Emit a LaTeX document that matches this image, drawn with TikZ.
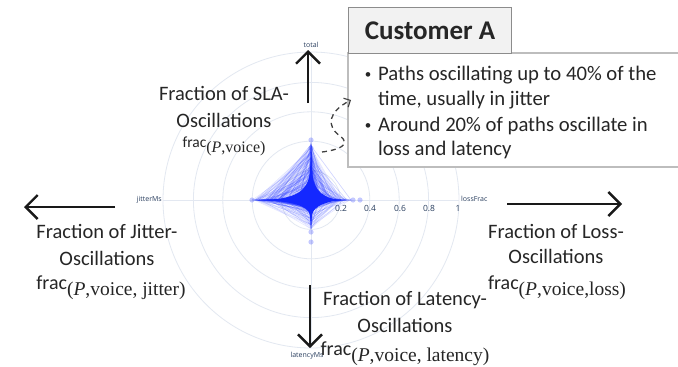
\documentclass[tikz,border=0pt]{standalone}
\usepackage{fontspec}
\setmainfont{Carlito}
\newfontfamily\subfont{Liberation Serif}
\newfontfamily\plotfont{Open Sans}
\usetikzlibrary{arrows.meta}
\definecolor{txt}{HTML}{262626}
\definecolor{gridc}{HTML}{E3E8F1}
\definecolor{axlbl}{HTML}{2A3F5F}
\definecolor{datac}{RGB}{20,40,255}
\definecolor{boxline}{HTML}{BDBDBD}
\definecolor{titlefill}{HTML}{F2F2F2}
\newcommand\bigfrac[1]{{\fontsize{20}{24}\selectfont frac\raisebox{-6pt}{\fontsize{19.5}{22}\subfont #1}}}
\newcommand\smallfrac[1]{{\fontsize{15.5}{18}\selectfont frac\raisebox{-5pt}{\fontsize{16}{18}\subfont #1}}}
\begin{document}
\begin{tikzpicture}[x=1pt,y=-1pt,
  lbl/.style={text=txt,font=\fontsize{20.5}{24}\selectfont,anchor=base,inner sep=0pt},
  bullettxt/.style={text=txt,font=\fontsize{20.7}{24}\selectfont,anchor=base west,inner sep=0pt},
  bulletdot/.style={text=txt,font=\fontsize{13}{14}\selectfont,anchor=base,inner sep=0pt},
  axname/.style={text=axlbl,font=\plotfont\fontsize{7}{8}\selectfont,inner sep=0pt},
  ticklbl/.style={text=axlbl,font=\plotfont\fontsize{8.5}{9}\selectfont,inner sep=0pt},
  gridline/.style={draw=gridc,line width=0.8pt},
  bigarrow/.style={draw=black!90,line width=2.4pt,-{Straight Barb[length=12pt,width=24pt,line width=2.4pt]}},
  dataline/.style={draw=datac,line width=0.5pt,draw opacity=0.12},
  datadot/.style={fill=datac,fill opacity=0.25}]
\useasboundingbox (0,0) rectangle (678,367);
\fill[white] (0,0) rectangle (678,367);
\coordinate (c) at (311,200);
% grid
\foreach \r in {29.4,58.8,88.2,117.6,148}{\draw[gridline] (c) circle[radius=\r];}
\draw[gridline] (163,200) -- (459,200);
\draw[gridline] (311,52) -- (311,348);
% tick labels
\node[ticklbl] (t2) at (341,208) {0.2};
\node[ticklbl] (t4) at (370,208) {0.4};
\node[ticklbl] (t6) at (400,208) {0.6};
\node[ticklbl] (t8) at (429,208) {0.8};
\node[ticklbl] (t10) at (458,208) {1};
% axis names
\node[axname] (ntotal) at (311,45) {total};
\node[axname,anchor=west] (nloss) at (461,199) {lossFrac};
\node[axname,anchor=east] (njit) at (162,200) {jitterMs};
\node[axname] (nlat) at (307,356) {latencyMs};
% data
\pgfmathsetseed{11}
\foreach \i in {1,...,260}{
  \pgfmathsetmacro\tt{0.40*pow(rnd,2.2)}
  \pgfmathsetmacro\jj{0.40*pow(rnd,2.0)}
  \pgfmathsetmacro\ll{0.28*pow(rnd,2.6)}
  \pgfmathsetmacro\dd{0.20*pow(rnd,2.6)}
  \draw[dataline] (311,{200-147*\tt}) -- ({311+147*\ll},200) -- (311,{200+147*\dd}) -- ({311-147*\jj},200) -- cycle;
}
\foreach \i in {1,...,70}{
  \pgfmathsetmacro\tt{0.05+0.33*pow(rnd,0.8)}
  \pgfmathsetmacro\jj{0.05+0.34*pow(rnd,0.8)}
  \pgfmathsetmacro\ll{0.02+0.2*pow(rnd,2)}
  \pgfmathsetmacro\dd{0.02+0.15*pow(rnd,2)}
  \draw[dataline] (311,{200-147*\tt}) -- ({311+147*\ll},200) -- (311,{200+147*\dd}) -- ({311-147*\jj},200) -- cycle;
}
% dense core
\fill[datac] (311,165) .. controls (313,188) and (318,196) .. (338,200) .. controls (318,204) and (313,208) .. (311,218) .. controls (309,208) and (303,204) .. (272,200) .. controls (303,196) and (309,188) .. cycle;
\fill[datac] (308.5,200) -- (311,152) -- (313.5,200) -- cycle;
\fill[datac] (311,198) -- (252,200) -- (311,202.5) -- cycle;
\fill[datac] (311,198) -- (351,200) -- (311,202) -- cycle;
\fill[datac] (309,200) -- (311,228) -- (313,200) -- cycle;
\foreach \p in {(311,140),(311,148),(360,200),(353,200),(311,242),(311,232),(252,200)}{\fill[datadot] \p circle[radius=2.6];}
% big arrows
\coordinate (upS) at (308,103); \coordinate (upE) at (308,50);
\draw[bigarrow] (upS) -- (upE);
\coordinate (lfS) at (115,207); \coordinate (lfE) at (24,207);
\draw[bigarrow] (lfS) -- (lfE);
\coordinate (rtS) at (507,204); \coordinate (rtE) at (622,204);
\draw[bigarrow] (rtS) -- (rtE);
\coordinate (dnS) at (310,285); \coordinate (dnE) at (310,348);
\draw[bigarrow] (dnS) -- (dnE);
% labels
\node[lbl] (sla1) at (224,100) {Fraction of SLA-};
\node[lbl] (sla2) at (224,127) {Oscillations};
\node[lbl] (sla3) at (224,147) {\smallfrac{(\textit{P},voice)}};
\node[lbl] (jit1) at (107,238) {Fraction of Jitter-};
\node[lbl] (jit2) at (107,265) {Oscillations};
\node[lbl] (jit3) at (111,289) {\bigfrac{(\textit{P},voice, jitter)}};
\node[lbl] (los1) at (556,238) {Fraction of Loss-};
\node[lbl] (los2) at (556,263) {Oscillations};
\node[lbl] (los3) at (557,289) {\bigfrac{(\textit{P},voice,loss)}};
\node[lbl] (lat1) at (405,305) {Fraction of Latency-};
\node[lbl] (lat2) at (405,332) {Oscillations};
\node[lbl] (lat3) at (405,355) {\bigfrac{(\textit{P},voice, latency)}};
% customer box
\fill[white] (678,53) -- (348,53) -- (348,167) -- (678,167) -- cycle;
\draw[boxline,line width=1.2pt] (678,53) -- (348,53) -- (348,167) -- (678,167);
\node[draw=black!45,line width=1pt,fill=titlefill,minimum width=163pt,minimum height=46pt,inner sep=0pt,anchor=north west,text=txt,font=\bfseries\fontsize{27}{30}\selectfont] (title) at (348,7) {Customer A};
\node[bullettxt] (b1) at (378,80) {Paths oscillating up to 40\% of the};
\node[bullettxt] (b1b) at (378,105) {time, usually in jitter};
\node[bullettxt] (b2) at (378,131) {Around 20\% of paths oscillate in};
\node[bullettxt] (b2b) at (378,155) {loss and latency};
\node[bulletdot] (d1) at (368,78) {•};
\node[bulletdot] (d2) at (368,129) {•};
% dashed curved arrow
\coordinate (dS) at (322,152);
\coordinate (dE) at (351,100);
\draw[draw=black!75,line width=1.3pt,dash pattern=on 5pt off 4pt,-{Straight Barb[length=5pt,width=10pt,line width=1.1pt]}]
  (dS) .. controls (338,150) and (352,145) .. (340,136) .. controls (326,126) and (328,112) .. (dE);
\end{tikzpicture}
\end{document}
